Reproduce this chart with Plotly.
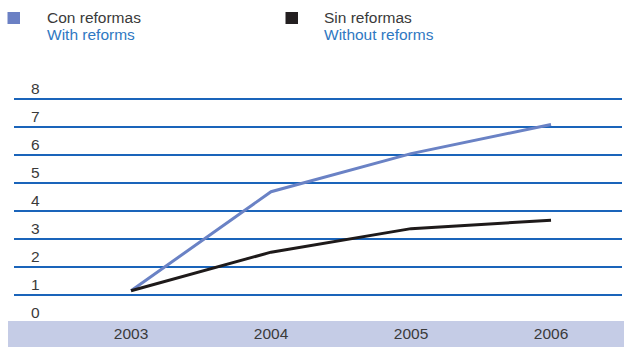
import plotly.graph_objects as go

years = [2003, 2004, 2005, 2006]
con_reformas = [1.15, 4.69, 6.05, 7.09]
sin_reformas = [1.15, 2.53, 3.37, 3.67]
y_ticks = [0, 1, 2, 3, 4, 5, 6, 7, 8]
year_labels = ["2003", "2004", "2005", "2006"]

BLUE_LINE = "#6a82c5"
BLACK_LINE = "#1e1a1a"
GRID = "#1a64ba"
BAND = "#c5cce6"
TEXT = "#3a3a3a"
BLUE_TEXT = "#2f78c2"
FONT = "Liberation Sans, Arial, sans-serif"

W, H = 624, 347
L, R, T, B = 14, 2, 66, 24
pw, ph = W - L - R, H - T - B

def px(x):
    return (x - L) / pw

def py(y):
    return (H - B - y) / ph

fig = go.Figure()
fig.add_trace(go.Scatter(x=years, y=con_reformas, mode="lines",
                         line=dict(color=BLUE_LINE, width=3), showlegend=False))
fig.add_trace(go.Scatter(x=years, y=sin_reformas, mode="lines",
                         line=dict(color=BLACK_LINE, width=3), showlegend=False))

# band behind x labels
fig.add_shape(type="rect", xref="paper", yref="paper", layer="below",
              x0=px(8), x1=px(624), y0=py(347), y1=py(321),
              fillcolor=BAND, line=dict(width=0))

# legend glyphs and texts
for x0, color in [(7.5, "#6b80c4"), (285.5, "#231f20")]:
    fig.add_shape(type="rect", xref="paper", yref="paper",
                  x0=px(x0), x1=px(x0 + 12.5), y0=py(24), y1=py(12),
                  fillcolor=color, line=dict(width=0))

legend_items = [(45, "Con reformas", "With reforms"),
                (322, "Sin reformas", "Without reforms")]
for x, es, en in legend_items:
    fig.add_annotation(xref="paper", yref="paper", x=px(x), y=py(17),
                       xanchor="left", yanchor="middle", showarrow=False,
                       text=es, font=dict(family=FONT, size=15.5, color=TEXT))
    fig.add_annotation(xref="paper", yref="paper", x=px(x), y=py(34.5),
                       xanchor="left", yanchor="middle", showarrow=False,
                       text=en, font=dict(family=FONT, size=15.5, color=BLUE_TEXT))

fig.update_layout(
    template="none",
    width=W, height=H,
    margin=dict(l=L, r=R, t=T, b=B, pad=0),
    paper_bgcolor="white", plot_bgcolor="white",
    showlegend=False,
    xaxis=dict(range=[2002.164, 2006.507], tickvals=years, ticktext=year_labels,
               showgrid=False, zeroline=False, showline=False,
               ticks="", ticklabelstandoff=-1,
               tickfont=dict(family=FONT, size=15.5, color=TEXT)),
    yaxis=dict(range=[0, ph / 28.0], tickvals=y_ticks,
               ticktext=[str(v) for v in y_ticks],
               showgrid=True, gridcolor=GRID, gridwidth=1.5,
               zeroline=True, zerolinecolor=BAND, zerolinewidth=2,
               showline=False, ticks="",
               ticklabelposition="inside", ticklabelstandoff=14,
               ticklabelshift=-10,
               tickfont=dict(family=FONT, size=15.5, color=TEXT)),
)

fig.write_html("out.html")
